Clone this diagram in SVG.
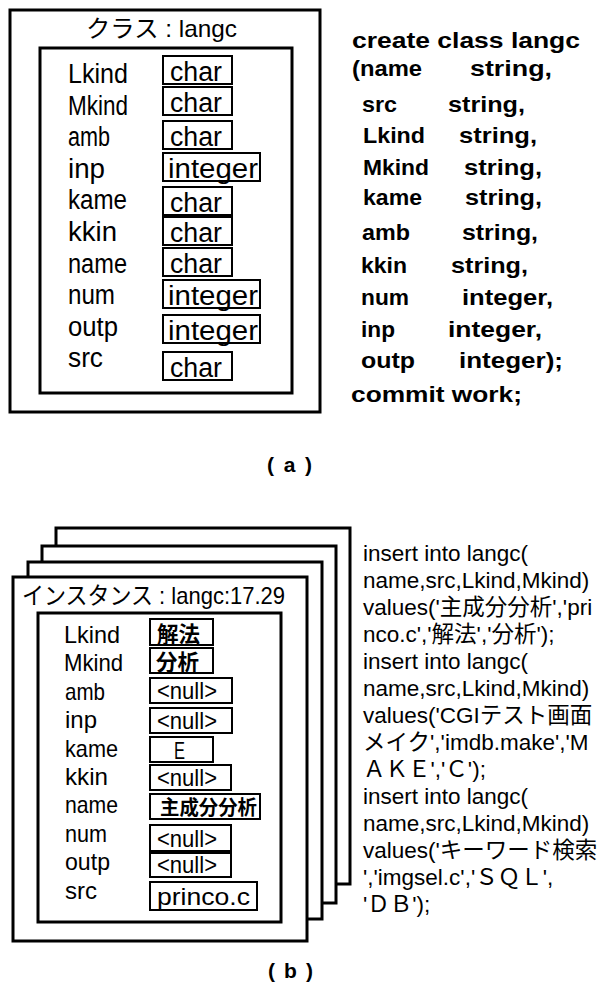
<svg xmlns="http://www.w3.org/2000/svg" width="602" height="997" viewBox="0 0 602 997">
<style>
.t{font-family:"Liberation Sans","Noto Sans CJK JP",sans-serif;fill:#000}
.lb{font-size:27px}
.lb2{font-size:24px}
.ttl{font-size:24px}
.code{font-family:"Liberation Sans",sans-serif;font-size:22px;font-weight:bold;fill:#000}
.sql{font-family:"Liberation Sans","Noto Sans CJK JP",sans-serif;font-size:22.5px;fill:#000}
.frame{fill:#fff;stroke:#000;stroke-width:3}
.vb{fill:#fff;stroke:#000;stroke-width:2}
.cap{font-family:"Liberation Sans",sans-serif;font-size:21px;font-weight:bold;fill:#000}
</style>

<g id="class-langc">
<rect class="frame" x="10" y="10" width="310" height="402"/>
<text class="t ttl" x="86" y="37" textLength="151" lengthAdjust="spacingAndGlyphs">クラス : langc</text>
<rect class="frame" x="40" y="48" width="252" height="345"/>
<g id="a-rows">
<text class="t lb" x="68" y="83" textLength="60" lengthAdjust="spacingAndGlyphs">Lkind</text>
<text class="t lb" x="68" y="114.6" textLength="60" lengthAdjust="spacingAndGlyphs">Mkind</text>
<text class="t lb" x="68" y="146.2" textLength="42" lengthAdjust="spacingAndGlyphs">amb</text>
<text class="t lb" x="68" y="177.8" textLength="37" lengthAdjust="spacingAndGlyphs">inp</text>
<text class="t lb" x="68" y="209.4" textLength="59" lengthAdjust="spacingAndGlyphs">kame</text>
<text class="t lb" x="68" y="241" textLength="49" lengthAdjust="spacingAndGlyphs">kkin</text>
<text class="t lb" x="68" y="272.6" textLength="59" lengthAdjust="spacingAndGlyphs">name</text>
<text class="t lb" x="68" y="304.2" textLength="47" lengthAdjust="spacingAndGlyphs">num</text>
<text class="t lb" x="68" y="335.8" textLength="50" lengthAdjust="spacingAndGlyphs">outp</text>
<text class="t lb" x="68" y="367.4" textLength="35" lengthAdjust="spacingAndGlyphs">src</text>

<rect class="vb" x="163" y="56" width="69" height="28"/>
<text class="t lb" x="170" y="81" textLength="52" lengthAdjust="spacingAndGlyphs">char</text>
<rect class="vb" x="163" y="87" width="69" height="28"/>
<text class="t lb" x="170" y="112" textLength="52" lengthAdjust="spacingAndGlyphs">char</text>
<rect class="vb" x="163" y="121" width="69" height="28"/>
<text class="t lb" x="170" y="146" textLength="52" lengthAdjust="spacingAndGlyphs">char</text>
<rect class="vb" x="163" y="153" width="97" height="28"/>
<text class="t lb" x="168" y="178" textLength="90" lengthAdjust="spacingAndGlyphs">integer</text>
<rect class="vb" x="163" y="187" width="69" height="28"/>
<text class="t lb" x="170" y="212" textLength="52" lengthAdjust="spacingAndGlyphs">char</text>
<rect class="vb" x="163" y="217" width="69" height="28"/>
<text class="t lb" x="170" y="242" textLength="52" lengthAdjust="spacingAndGlyphs">char</text>
<rect class="vb" x="163" y="248" width="69" height="28"/>
<text class="t lb" x="170" y="273" textLength="52" lengthAdjust="spacingAndGlyphs">char</text>
<rect class="vb" x="163" y="280" width="97" height="28"/>
<text class="t lb" x="168" y="305" textLength="90" lengthAdjust="spacingAndGlyphs">integer</text>
<rect class="vb" x="163" y="315" width="97" height="28"/>
<text class="t lb" x="168" y="340" textLength="90" lengthAdjust="spacingAndGlyphs">integer</text>
<rect class="vb" x="163" y="352" width="69" height="28"/>
<text class="t lb" x="170" y="377" textLength="52" lengthAdjust="spacingAndGlyphs">char</text>
</g>
</g>

<g id="create-class-code">
<text class="code" x="352" y="48" textLength="228" lengthAdjust="spacingAndGlyphs">create class langc</text>
<text class="code" x="352" y="76" textLength="70" lengthAdjust="spacingAndGlyphs">(name</text>
<text class="code" x="470" y="76" textLength="82" lengthAdjust="spacingAndGlyphs">string,</text>
<text class="code" x="362" y="112" textLength="35" lengthAdjust="spacingAndGlyphs">src</text>
<text class="code" x="448" y="112" textLength="77" lengthAdjust="spacingAndGlyphs">string,</text>
<text class="code" x="363" y="143" textLength="62" lengthAdjust="spacingAndGlyphs">Lkind</text>
<text class="code" x="459" y="143" textLength="78" lengthAdjust="spacingAndGlyphs">string,</text>
<text class="code" x="363" y="175" textLength="66" lengthAdjust="spacingAndGlyphs">Mkind</text>
<text class="code" x="464" y="175" textLength="78" lengthAdjust="spacingAndGlyphs">string,</text>
<text class="code" x="363" y="205" textLength="59" lengthAdjust="spacingAndGlyphs">kame</text>
<text class="code" x="465" y="205" textLength="77" lengthAdjust="spacingAndGlyphs">string,</text>
<text class="code" x="362" y="240" textLength="48" lengthAdjust="spacingAndGlyphs">amb</text>
<text class="code" x="462" y="240" textLength="76" lengthAdjust="spacingAndGlyphs">string,</text>
<text class="code" x="361" y="273" textLength="46" lengthAdjust="spacingAndGlyphs">kkin</text>
<text class="code" x="451" y="273" textLength="77" lengthAdjust="spacingAndGlyphs">string,</text>
<text class="code" x="361" y="305" textLength="48" lengthAdjust="spacingAndGlyphs">num</text>
<text class="code" x="462" y="305" textLength="91" lengthAdjust="spacingAndGlyphs">integer,</text>
<text class="code" x="361" y="337" textLength="34" lengthAdjust="spacingAndGlyphs">inp</text>
<text class="code" x="448" y="337" textLength="94" lengthAdjust="spacingAndGlyphs">integer,</text>
<text class="code" x="361" y="368" textLength="54" lengthAdjust="spacingAndGlyphs">outp</text>
<text class="code" x="459" y="368" textLength="104" lengthAdjust="spacingAndGlyphs">integer);</text>
<text class="code" x="351" y="402" textLength="171" lengthAdjust="spacingAndGlyphs">commit work;</text>
</g>

<text class="cap" x="267" y="472" textLength="45">(a)</text>

<g id="instance-stack">
<rect class="frame" x="56" y="528" width="294" height="356"/>
<rect class="frame" x="42" y="546" width="294" height="357"/>
<rect class="frame" x="28" y="562" width="294" height="357"/>
</g>

<g id="instance-langc">
<rect class="frame" x="13" y="577" width="294" height="364"/>
<text class="t ttl" x="22" y="604" textLength="263" lengthAdjust="spacingAndGlyphs">インスタンス : langc:17.29</text>
<rect class="frame" x="38" y="613" width="243" height="309"/>
<g id="b-rows">
<text class="t lb2" x="64" y="643" textLength="56" lengthAdjust="spacingAndGlyphs">Lkind</text>
<text class="t lb2" x="64" y="671.4" textLength="59" lengthAdjust="spacingAndGlyphs">Mkind</text>
<text class="t lb2" x="65" y="699.8" textLength="40" lengthAdjust="spacingAndGlyphs">amb</text>
<text class="t lb2" x="65" y="728.2" textLength="32" lengthAdjust="spacingAndGlyphs">inp</text>
<text class="t lb2" x="65" y="756.6" textLength="53" lengthAdjust="spacingAndGlyphs">kame</text>
<text class="t lb2" x="65" y="785" textLength="43" lengthAdjust="spacingAndGlyphs">kkin</text>
<text class="t lb2" x="65" y="813.4" textLength="53" lengthAdjust="spacingAndGlyphs">name</text>
<text class="t lb2" x="65" y="841.8" textLength="42" lengthAdjust="spacingAndGlyphs">num</text>
<text class="t lb2" x="65" y="870.2" textLength="45" lengthAdjust="spacingAndGlyphs">outp</text>
<text class="t lb2" x="65" y="898.6" textLength="32" lengthAdjust="spacingAndGlyphs">src</text>

<rect class="vb" x="150" y="619" width="63" height="26"/>
<text class="t" font-size="22" x="157" y="642" textLength="43" lengthAdjust="spacingAndGlyphs" font-weight="bold">解法</text>
<rect class="vb" x="150" y="648" width="63" height="25"/>
<text class="t" font-size="22" x="156" y="670" textLength="43" lengthAdjust="spacingAndGlyphs" font-weight="bold">分析</text>
<rect class="vb" x="150" y="678" width="82" height="25"/>
<text class="t lb2" x="157" y="699" textLength="60" lengthAdjust="spacingAndGlyphs">&lt;null&gt;</text>
<rect class="vb" x="150" y="708" width="82" height="25"/>
<text class="t lb2" x="157" y="729" textLength="60" lengthAdjust="spacingAndGlyphs">&lt;null&gt;</text>
<rect class="vb" x="150" y="737" width="63" height="25"/>
<text class="t lb2" x="174" y="759" textLength="11" lengthAdjust="spacingAndGlyphs">E</text>
<rect class="vb" x="150" y="765" width="81" height="25"/>
<text class="t lb2" x="157" y="786" textLength="60" lengthAdjust="spacingAndGlyphs">&lt;null&gt;</text>
<rect class="vb" x="150" y="794" width="110" height="25"/>
<text class="t" font-size="20" font-weight="bold" x="160" y="815" textLength="97" lengthAdjust="spacingAndGlyphs">主成分分析</text>
<rect class="vb" x="150" y="825" width="81" height="26"/>
<text class="t lb2" x="157" y="847" textLength="60" lengthAdjust="spacingAndGlyphs">&lt;null&gt;</text>
<rect class="vb" x="150" y="853" width="81" height="24"/>
<text class="t lb2" x="157" y="873" textLength="60" lengthAdjust="spacingAndGlyphs">&lt;null&gt;</text>
<rect class="vb" x="150" y="882" width="107" height="28"/>
<text class="t lb2" x="157" y="905" textLength="93" lengthAdjust="spacingAndGlyphs">princo.c</text>
</g>
</g>

<g id="insert-sql">
<text class="sql" x="363" y="561">insert into langc(</text>
<text class="sql" x="363" y="588">name,src,Lkind,Mkind)</text>
<text class="sql" x="363" y="615">values('主成分分析','pri</text>
<text class="sql" x="363" y="642">nco.c','解法','分析');</text>
<text class="sql" x="363" y="669">insert into langc(</text>
<text class="sql" x="363" y="696">name,src,Lkind,Mkind)</text>
<text class="sql" x="363" y="723">values('CGIテスト画面</text>
<text class="sql" x="363" y="750">メイク','imdb.make','M</text>
<text class="sql" x="363" y="777">ＡＫＥ','Ｃ');</text>
<text class="sql" x="363" y="804">insert into langc(</text>
<text class="sql" x="363" y="831">name,src,Lkind,Mkind)</text>
<text class="sql" x="363" y="858">values('キーワード検索</text>
<text class="sql" x="363" y="885">','imgsel.c','ＳＱＬ',</text>
<text class="sql" x="363" y="912">'ＤＢ');</text>
</g>

<text class="cap" x="268" y="978" textLength="45">(b)</text>
</svg>
